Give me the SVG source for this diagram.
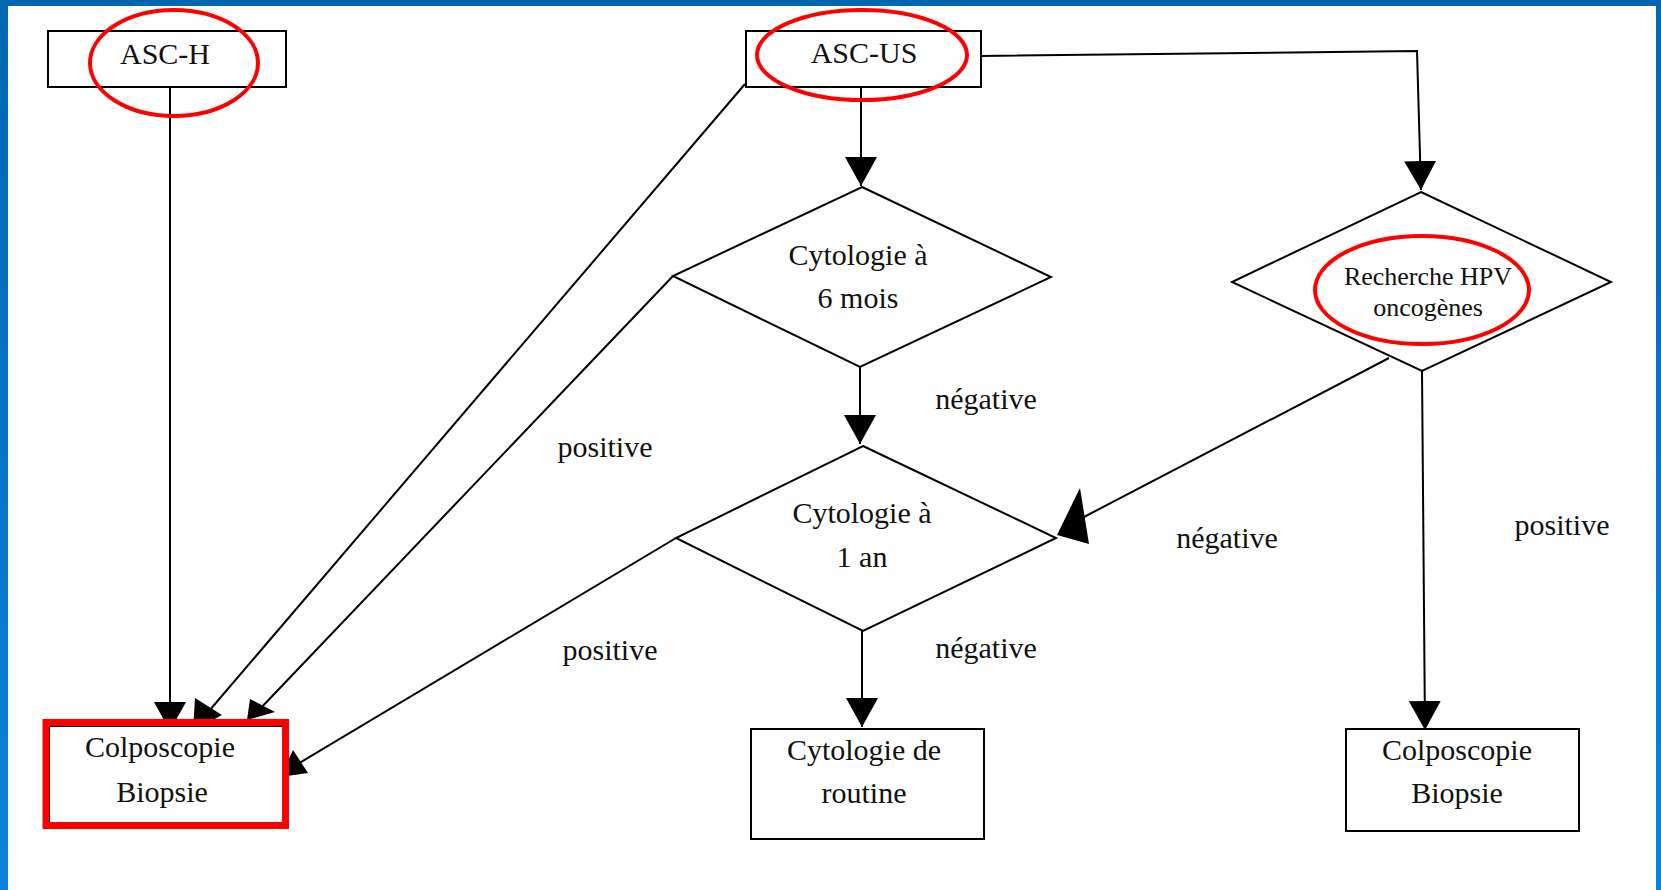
<svg xmlns="http://www.w3.org/2000/svg" width="1661" height="890" viewBox="0 0 1661 890">
  <defs>
    <linearGradient id="side" x1="0" y1="0" x2="0" y2="1">
      <stop offset="0" stop-color="#0066b0"/>
      <stop offset="1" stop-color="#0a84dc"/>
    </linearGradient>
    <marker id="arr" markerUnits="userSpaceOnUse" markerWidth="30" markerHeight="32" refX="29" refY="16" orient="auto">
      <path d="M0,0 L29,16 L0,32 z" fill="#000"/>
    </marker>
    <style>
      .box { fill: #fff; stroke: #000; stroke-width: 2; }
      .dia { fill: #fff; stroke: #000; stroke-width: 2; }
      .ln { fill: none; stroke: #000; stroke-width: 2; }
      .head { fill: #000; }
      .hl { fill: none; stroke: #ff0000; stroke-width: 4; }
      .t { font-family: "Liberation Serif", "Times New Roman", serif; font-size: 30px; fill: #111; text-anchor: middle; }
      .ts { font-family: "Liberation Serif", "Times New Roman", serif; font-size: 26px; fill: #111; text-anchor: middle; }
    </style>
  </defs>

  <rect x="0" y="0" width="1661" height="890" fill="#fff"/>
  <rect x="0" y="0" width="1661" height="6" fill="#0066b0"/>
  <rect x="0" y="0" width="8" height="890" fill="url(#side)"/>
  <rect x="1656" y="0" width="5" height="890" fill="url(#side)"/>

  <g id="connectors">
    <line class="ln" x1="170" y1="87" x2="170" y2="731" marker-end="url(#arr)"/>
    <line class="ln" x1="861" y1="87" x2="861" y2="186" marker-end="url(#arr)"/>
    <polyline class="ln" points="981,56 1417,51 1421,190" marker-end="url(#arr)"/>
    <line class="ln" x1="860" y1="367" x2="860" y2="444" marker-end="url(#arr)"/>
    <line class="ln" x1="862" y1="631" x2="862" y2="727" marker-end="url(#arr)"/>
    <line class="ln" x1="1422" y1="371" x2="1425" y2="730" marker-end="url(#arr)"/>

    <line class="ln" x1="745" y1="84" x2="203" y2="718"/>
    <polygon class="head" points="195,698 222,715 193,731"/>
    <line class="ln" x1="673" y1="276" x2="258" y2="711"/>
    <polygon class="head" points="250,699 275,712 247,720"/>
    <line class="ln" x1="676" y1="538" x2="296" y2="765"/>
    <polygon class="head" points="293,750 308,773 280,777"/>
    <line class="ln" x1="1389" y1="358" x2="1082" y2="518"/>
    <polygon class="head" points="1080,488 1057,535 1089,544"/>

    <text class="t" x="986" y="409">négative</text>
    <text class="t" x="605" y="457">positive</text>
    <text class="t" x="610" y="660">positive</text>
    <text class="t" x="986" y="658">négative</text>
    <text class="t" x="1227" y="548">négative</text>
    <text class="t" x="1562" y="535">positive</text>
  </g>

  <g id="asc-h">
    <rect class="box" x="48" y="31" width="238" height="56"/>
    <text class="t" x="165" y="64">ASC-H</text>
    <ellipse class="hl" cx="174" cy="63" rx="84" ry="53"/>
  </g>

  <g id="asc-us">
    <rect class="box" x="746" y="31" width="235" height="56"/>
    <text class="t" x="864" y="63">ASC-US</text>
    <ellipse class="hl" cx="862" cy="55" rx="105" ry="45"/>
  </g>

  <g id="cyto-6-mois">
    <polygon class="dia" points="862,187 1051,277 860,367 673,276"/>
    <text class="t" x="858" y="265">Cytologie à</text>
    <text class="t" x="858" y="308">6 mois</text>
  </g>

  <g id="cyto-1-an">
    <polygon class="dia" points="863,446 1056,538 863,631 676,538"/>
    <text class="t" x="862" y="523">Cytologie à</text>
    <text class="t" x="862" y="567">1 an</text>
  </g>

  <g id="hpv">
    <polygon class="dia" points="1421,192 1611,282 1422,371 1232,282"/>
    <text class="ts" x="1428" y="285">Recherche HPV</text>
    <text class="ts" x="1428" y="316">oncogènes</text>
    <ellipse class="hl" cx="1422" cy="290" rx="107" ry="54"/>
  </g>

  <g id="colpo-left">
    <rect class="box" x="49" y="726" width="234" height="98"/>
    <text class="t" x="160" y="757">Colposcopie</text>
    <text class="t" x="162" y="802">Biopsie</text>
    <rect x="46" y="722.5" width="239.5" height="103" fill="none" stroke="#ff0000" stroke-width="7"/>
  </g>

  <g id="cyto-routine">
    <rect class="box" x="751" y="729" width="233" height="110"/>
    <text class="t" x="864" y="760">Cytologie de</text>
    <text class="t" x="864" y="803">routine</text>
  </g>

  <g id="colpo-right">
    <rect class="box" x="1346" y="729" width="233" height="102"/>
    <text class="t" x="1457" y="760">Colposcopie</text>
    <text class="t" x="1457" y="803">Biopsie</text>
  </g>
</svg>
